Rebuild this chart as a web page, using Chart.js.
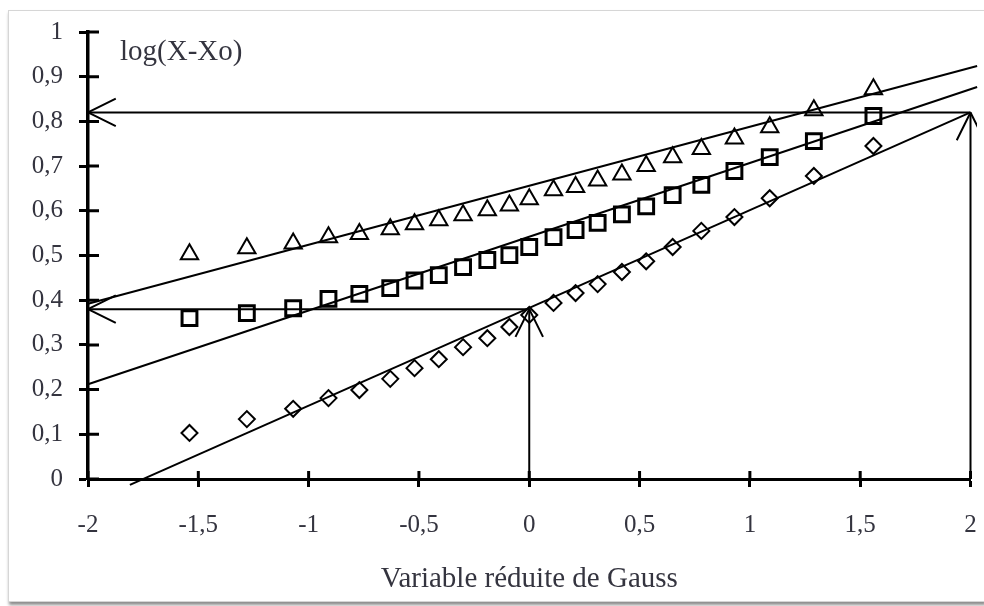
<!DOCTYPE html>
<html>
<head>
<meta charset="utf-8">
<script src="https://cdn.jsdelivr.net/npm/chart.js@4.4.1/dist/chart.umd.min.js"></script>
<style>
  html, body { margin: 0; padding: 0; background: #fff; }
  #frame {
    position: absolute; left: 8px; top: 10px; width: 975px; height: 590px;
    border: 1px solid #d6d6d6; box-shadow: 1px 3px 3px rgba(0,0,0,0.45); background: #fff;
  }
  #wrap { position: absolute; left: 0; top: 0; width: 984px; height: 606px; }
</style>
</head>
<body>
<div id="frame"></div>
<div id="wrap"><canvas id="myChart" width="984" height="606"></canvas></div>
<script>
'use strict'

// reduced Gauss variable of each point
const gaussX = [-1.54, -1.28, -1.07, -0.91, -0.77, -0.63, -0.52, -0.41, -0.30, -0.19, -0.09, 0.0,
    0.11, 0.21, 0.31, 0.42, 0.53, 0.65, 0.78, 0.93, 1.09, 1.29, 1.56];

// log(X-Xo) for the three series
const triangleY = [0.503, 0.516, 0.527, 0.541, 0.548, 0.559, 0.570, 0.579, 0.590, 0.601, 0.612, 0.626,
    0.646, 0.653, 0.668, 0.681, 0.700, 0.720, 0.738, 0.762, 0.787, 0.825, 0.872];
const squareY = [0.360, 0.371, 0.382, 0.403, 0.414, 0.427, 0.444, 0.456, 0.474, 0.490, 0.501, 0.519,
    0.541, 0.557, 0.573, 0.592, 0.610, 0.635, 0.658, 0.689, 0.720, 0.756, 0.812];
const diamondY = [0.103, 0.134, 0.157, 0.181, 0.199, 0.224, 0.248, 0.268, 0.295, 0.315, 0.340, 0.367,
    0.394, 0.416, 0.436, 0.463, 0.487, 0.519, 0.555, 0.586, 0.628, 0.678, 0.745];

// fitted straight lines (end points)
const fitX = [-2, 2.03];
const fitTriangleY = [0.392, 0.924];
const fitSquareY = [0.212, 0.877];
const fitDiamondX = [-1.81, 2];
const fitDiamondY = [-0.013, 0.82];

// reading arrows, head at the second point
const arrowX = [[2, 2], [2, -2], [0, 0], [0, -2]];
const arrowY = [[0, 0.82], [0.82, 0.82], [0, 0.38], [0.38, 0.38]];

const yLabel = 'log(X-Xo)';
const xTitle = 'Variable réduite de Gauss';

const serif = '"Liberation Serif", "Times New Roman", serif';
const textColor = '#34343f';

function toPoints(xs, ys) {
    let pts = [];
    for (let i = 0; i < xs.length; i++) {
        pts.push({ x: xs[i], y: ys[i] });
    }
    return pts;
}

function commaLabel(v) {
    return String(Math.round(v * 10) / 10).replace('.', ',');
}

let datasets = [];

for (let i = 0; i < arrowX.length; i++) {
    datasets.push({
        type: 'line', data: toPoints(arrowX[i], arrowY[i]),
        borderColor: '#000', borderWidth: 2, pointRadius: 0, clip: false
    });
}

datasets.push({ type: 'line', data: toPoints(fitX, fitTriangleY), borderColor: '#000', borderWidth: 2, pointRadius: 0, clip: false });
datasets.push({ type: 'line', data: toPoints(fitX, fitSquareY), borderColor: '#000', borderWidth: 2, pointRadius: 0, clip: false });
datasets.push({ type: 'line', data: toPoints(fitDiamondX, fitDiamondY), borderColor: '#000', borderWidth: 2, pointRadius: 0, clip: false });

datasets.push({
    type: 'scatter', data: toPoints(gaussX, triangleY), pointStyle: 'triangle', pointRadius: 10,
    pointBorderWidth: 2, pointBorderColor: '#000', pointBackgroundColor: 'rgba(0,0,0,0)', clip: false
});
datasets.push({
    type: 'scatter', data: toPoints(gaussX, squareY), pointStyle: 'rect', pointRadius: 10.5,
    pointBorderWidth: 3, pointBorderColor: '#000', pointBackgroundColor: 'rgba(0,0,0,0)', clip: false
});
datasets.push({
    type: 'scatter', data: toPoints(gaussX, diamondY), pointStyle: 'rectRot', pointRadius: 8,
    pointBorderWidth: 2, pointBorderColor: '#000', pointBackgroundColor: 'rgba(0,0,0,0)', clip: false
});

// inner half of the tick marks, arrow heads and the y label
const extras = {
    id: 'extras',
    afterDatasetsDraw(chart) {
        const ctx = chart.ctx;
        const x = chart.scales.x;
        const y = chart.scales.y;
        ctx.save();
        ctx.strokeStyle = '#000';
        ctx.lineWidth = 3;
        ctx.beginPath();
        x.ticks.forEach(t => {
            const px = x.getPixelForValue(t.value);
            ctx.moveTo(px, y.bottom);
            ctx.lineTo(px, y.bottom - 8);
        });
        y.ticks.forEach(t => {
            const py = y.getPixelForValue(t.value);
            ctx.moveTo(x.left, py);
            ctx.lineTo(x.left + 11, py);
        });
        ctx.stroke();

        // the original figure is cut just right of the plot
        ctx.save();
        ctx.beginPath();
        ctx.rect(0, 0, chart.width - 7, chart.height);
        ctx.clip();
        ctx.lineWidth = 2;
        ctx.beginPath();
        for (let i = 0; i < arrowX.length; i++) {
            const x1 = x.getPixelForValue(arrowX[i][0]);
            const y1 = y.getPixelForValue(arrowY[i][0]);
            const x2 = x.getPixelForValue(arrowX[i][1]);
            const y2 = y.getPixelForValue(arrowY[i][1]);
            const ang = Math.atan2(y2 - y1, x2 - x1);
            [-1, 1].forEach(s => {
                ctx.moveTo(x2, y2);
                ctx.lineTo(x2 - 31 * Math.cos(ang + s * 0.46), y2 - 31 * Math.sin(ang + s * 0.46));
            });
        }
        ctx.stroke();
        ctx.restore();

        ctx.font = '29px ' + serif;
        ctx.fillStyle = textColor;
        ctx.textBaseline = 'middle';
        ctx.fillText(yLabel, x.left + 32, y.top + 20);
        ctx.restore();
    }
};

const ctx = document.getElementById('myChart').getContext('2d');
const myChart = new Chart(ctx, {
    data: { datasets: datasets },
    plugins: [extras],
    options: {
        responsive: false,
        animation: false,
        layout: { padding: { left: 0, right: 13, top: 32, bottom: 0 } },
        plugins: { legend: { display: false }, tooltip: { enabled: false } },
        scales: {
            x: {
                type: 'linear', min: -2, max: 2,
                afterFit: s => { s.height = 127; s.paddingLeft = 0; s.paddingRight = 0; },
                border: { display: true, color: '#000', width: 3 },
                grid: { drawOnChartArea: false, drawTicks: true, tickLength: 8, tickWidth: 3, tickColor: '#000' },
                ticks: {
                    stepSize: 0.5, padding: 23, color: textColor,
                    font: { family: serif, size: 25 },
                    callback: v => commaLabel(v)
                },
                title: {
                    display: true, text: xTitle, color: textColor,
                    font: { family: serif, size: 29 },
                    padding: { top: 0, bottom: 9 }
                }
            },
            y: {
                type: 'linear', min: 0, max: 1,
                afterFit: s => { s.width = 88; s.paddingTop = 0; s.paddingBottom = 0; },
                border: { display: true, color: '#000', width: 3.5 },
                grid: { drawOnChartArea: false, drawTicks: true, tickLength: 9, tickWidth: 3, tickColor: '#000' },
                ticks: {
                    stepSize: 0.1, padding: 16, color: textColor,
                    font: { family: serif, size: 25 },
                    callback: v => commaLabel(v)
                }
            }
        }
    }
});
</script>
</body>
</html>
